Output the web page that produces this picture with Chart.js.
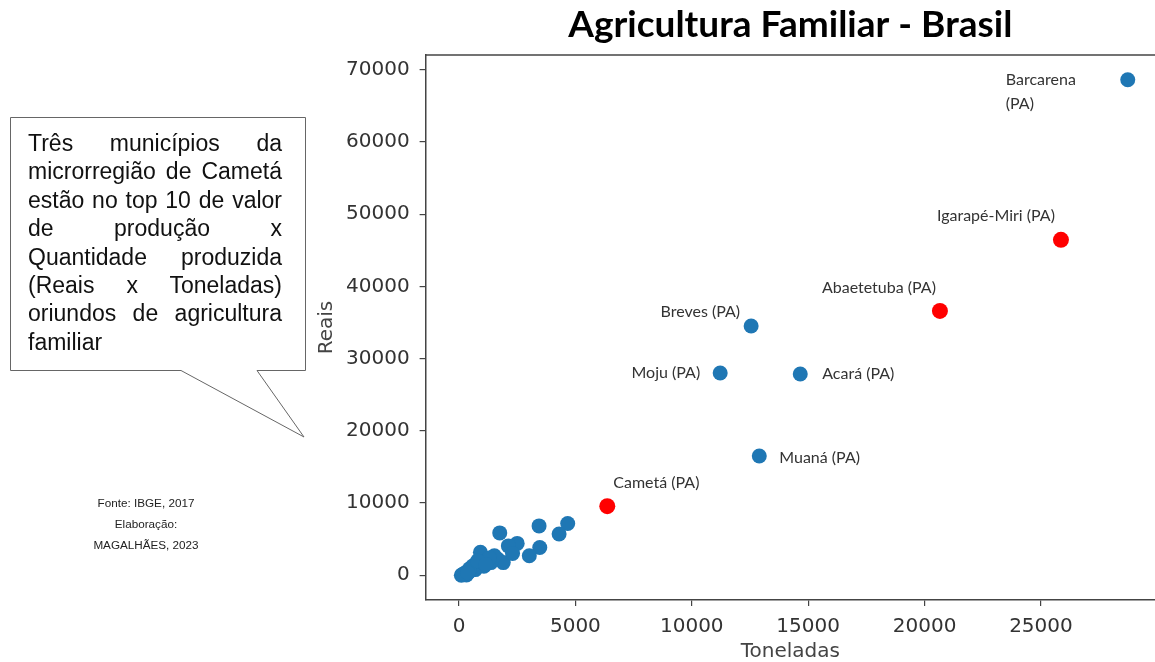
<!DOCTYPE html>
<html>
<head>
<meta charset="utf-8">
<script src="https://cdn.jsdelivr.net/npm/chart.js@4.4.1/dist/chart.umd.min.js"></script>
<style>
  html, body { margin: 0; padding: 0; background: #fff; overflow: hidden; }
  #wrap { position: relative; width: 1155px; height: 662px; }
  #grafico { position: absolute; left: 0; top: 0; }
  #balao { position: absolute; left: 0; top: 0; }
  #texto-balao {
    position: absolute; left: 28px; top: 129px; width: 254px;
    font-family: "Liberation Sans", Arial, sans-serif; font-size: 23px;
    line-height: 28.4px; color: #111;
  }
  #texto-balao div { text-align: justify; text-align-last: justify; white-space: nowrap; }
  #texto-balao div.ultima { text-align: left; text-align-last: left; }
  #fonte {
    position: absolute; left: 46px; top: 492px; width: 200px; text-align: center;
    font-family: "Liberation Sans", Arial, sans-serif; font-size: 11.7px;
    line-height: 21px; color: #222;
  }
</style>
</head>
<body>
<div id="wrap">
  <canvas id="grafico" width="1155" height="662"></canvas>
  <svg id="balao" width="320" height="450">
    <path d="M10.5,117.5 H305.5 V370.5 H257 L304,437 L181,370.5 H10.5 Z" fill="#fff" stroke="#666" stroke-width="1"/>
  </svg>
  <div id="texto-balao"></div>
  <div id="fonte">Fonte: IBGE, 2017<br>Elaboração:<br>MAGALHÃES, 2023</div>
</div>
<script>
// municipios com rotulo no grafico
const municipios = ["Barcarena\n(PA)", "Igarapé-Miri (PA)", "Abaetetuba (PA)", "Breves (PA)",
    "Moju (PA)", "Acará (PA)", "Muaná (PA)", "Cametá (PA)"];
const toneladas = [28730, 25860, 20660, 12550, 11220, 14660, 12900, 6370];
const reais = [68610, 46440, 36590, 34510, 28000, 27860, 16500, 9560];
const microCameta = [false, true, true, false, false, false, false, true];

// demais municipios (sem rotulo)
const outrosToneladas = [4670, 4300, 3440, 3470, 3020, 2500, 2120, 1750, 920, 1670, 1900, 1370,
    1070, 700, 320, 100, 470, 840, 1220, 1520, 600, 250, 1000, 1300, 450, 150, 800, 1150, 380, 2300];
const outrosReais = [7170, 5710, 6830, 3830, 2700, 4410, 4060, 5860, 3190, 2220, 1750, 1750,
    1250, 780, 40, 0, 550, 1250, 2220, 2700, 1300, 300, 1800, 2400, 900, 100, 2000, 1500, 350, 3000];

const xTicks = [0, 5000, 10000, 15000, 20000, 25000];
const yTicks = [0, 10000, 20000, 30000, 40000, 50000, 60000, 70000];

const linhasBalao = ["Três municípios da", "microrregião de Cametá", "estão no top 10 de valor",
    "de produção x", "Quantidade produzida", "(Reais x Toneladas)", "oriundos de agricultura", "familiar"];

// deslocamento (px) de cada rotulo em relacao ao ponto
const posRotulo = [
    { dx: -122, dy: 0, align: "left" },
    { dx: -6, dy: -24, align: "right" },
    { dx: -118, dy: -23, align: "left" },
    { dx: -11, dy: -14, align: "right" },
    { dx: -20, dy: 0, align: "right" },
    { dx: 22, dy: 0, align: "left" },
    { dx: 20, dy: 2, align: "left" },
    { dx: 6, dy: -23, align: "left" },
];

const caixa = document.getElementById("texto-balao");
linhasBalao.forEach((l, i) => {
    const d = document.createElement("div");
    d.textContent = l;
    if (i === linhasBalao.length - 1) d.className = "ultima";
    caixa.appendChild(d);
});

const pontosAzuis = [];
const pontosVermelhos = [];
toneladas.forEach((t, i) => {
    (microCameta[i] ? pontosVermelhos : pontosAzuis).push({ x: t, y: reais[i] });
});
outrosToneladas.forEach((t, i) => pontosAzuis.push({ x: t, y: outrosReais[i] }));

const moldura = {
    id: "moldura",
    afterDraw(chart) {
        const { ctx, chartArea } = chart;
        ctx.save();
        ctx.strokeStyle = "#444";
        ctx.lineWidth = 1.5;
        ctx.beginPath();
        ctx.moveTo(chartArea.left, chartArea.top);
        ctx.lineTo(chartArea.right, chartArea.top);
        ctx.stroke();
        ctx.restore();
    },
};

const rotulos = {
    id: "rotulos",
    afterDatasetsDraw(chart) {
        const { ctx, scales } = chart;
        ctx.save();
        ctx.font = "16px Lato";
        ctx.fillStyle = "#333";
        ctx.textBaseline = "middle";
        municipios.forEach((nome, i) => {
            const px = scales.x.getPixelForValue(toneladas[i]) + posRotulo[i].dx;
            const py = scales.y.getPixelForValue(reais[i]) + posRotulo[i].dy;
            ctx.textAlign = posRotulo[i].align;
            nome.split("\n").forEach((linha, j) => ctx.fillText(linha, px, py + j * 24));
        });
        ctx.restore();
    },
};

Chart.defaults.font.family = "'DejaVu Sans'";

const grafico = new Chart(document.getElementById("grafico"), {
    type: "scatter",
    data: {
        datasets: [
            { data: pontosAzuis, backgroundColor: "#1f77b4", pointRadius: 7.5, pointHoverRadius: 7.5, borderWidth: 0 },
            { data: pontosVermelhos, backgroundColor: "#ff0000", pointRadius: 8, pointHoverRadius: 8, borderWidth: 0 },
        ],
    },
    options: {
        responsive: false,
        animation: false,
        layout: { autoPadding: false, padding: { left: 300, right: 0, top: 0, bottom: 0 } },
        plugins: {
            legend: { display: false },
            tooltip: { enabled: false },
            title: {
                display: true,
                text: "Agricultura Familiar - Brasil",
                fullSize: false,
                color: "#000",
                font: { family: "Lato", weight: "bold", size: 37 },
                padding: { top: 3, bottom: 7.6 },
            },
        },
        scales: {
            x: {
                type: "linear",
                min: -1435,
                max: 29900,
                afterBuildTicks: (s) => { s.ticks = xTicks.map((v) => ({ value: v })); },
                afterFit: (s) => { s.height = 62; },
                ticks: { color: "#333", font: { size: 20 }, padding: 9, callback: (v) => String(v) },
                grid: { display: true, drawOnChartArea: false, tickLength: 6, color: "#444", lineWidth: 1.2 },
                border: { display: true, color: "#444", width: 1.5 },
                title: { display: true, text: "Toneladas", color: "#444", font: { size: 20 }, padding: { top: 0, bottom: -2 } },
            },
            y: {
                type: "linear",
                min: -3430,
                max: 72030,
                afterBuildTicks: (s) => { s.ticks = yTicks.map((v) => ({ value: v })); },
                afterFit: (s) => { s.width = 125.6; },
                ticks: { color: "#333", font: { size: 20 }, padding: 10, callback: (v) => String(v) },
                grid: { display: true, drawOnChartArea: false, tickLength: 6, color: "#444", lineWidth: 1.2 },
                border: { display: true, color: "#444", width: 1.5 },
                title: { display: true, text: "Reais", color: "#444", font: { size: 20 }, padding: { top: 15, bottom: 0 } },
            },
        },
    },
    plugins: [moldura, rotulos],
});
</script>
</body>
</html>
